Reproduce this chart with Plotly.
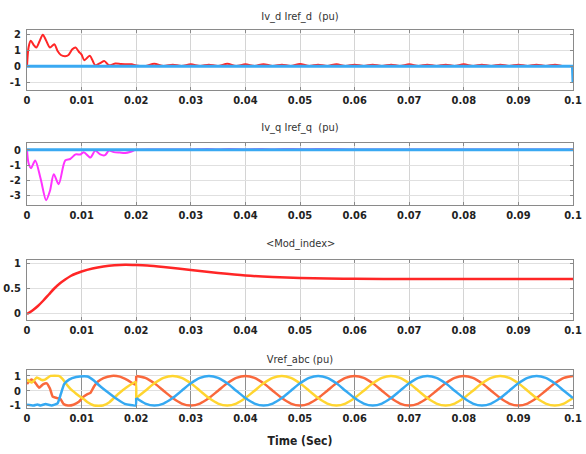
import plotly.graph_objects as go

# ---------------- data (time in ms) ----------------
x_tick_ms = [0, 10, 20, 30, 40, 50, 60, 70, 80, 90, 100]
x_tick_text = ["0", "0.01", "0.02", "0.03", "0.04", "0.05", "0.06", "0.07", "0.08", "0.09", "0.1"]

# Panel 1: Iv_d (red) and Iref_d (blue)
t_ivd_ms = [0, 0.3, 0.7, 1.2, 1.7, 2.3, 2.9, 3.5, 4.2, 5.0, 5.6, 6.2, 7.0, 7.6, 8.3, 8.9, 9.5,
            10.0, 10.5, 11.5, 12.5, 13.4, 14.2, 15.0, 16.2, 17.2, 18.2, 19.2, 20.0,
            21.7, 23.3, 25.0, 26.7, 28.3, 30.0, 31.7, 33.3, 35.0, 36.7, 38.3, 40.0, 41.7, 43.3,
            45.0, 46.7, 48.3, 50.0, 51.7, 53.3, 55.0, 56.7, 58.3, 60.0, 61.7, 63.3, 65.0, 66.7,
            68.3, 70.0, 71.7, 73.3, 75.0, 76.7, 78.3, 80.0, 81.7, 83.3, 85.0, 86.7, 88.3, 90.0,
            91.7, 93.3, 95.0, 96.7, 98.3, 100.0]
ivd = [0, 1.2, 1.58, 1.33, 1.16, 1.55, 1.96, 1.6, 1.16, 1.37, 0.95, 0.7, 0.63, 0.7, 1.05, 1.16, 0.9,
       0.72, 0.38, 0.66, 0.06, 0.2, 0.32, 0.06, 0.17, 0.14, 0.13, 0.12, 0.05,
       0.02, 0.16, 0.02, 0.1, 0.02, 0.12, 0.02, 0.1, 0.02, 0.15, 0.02, 0.12, 0.02, 0.13,
       0.02, 0.1, 0.02, 0.14, 0.02, 0.1, 0.02, 0.13, 0.02, 0.1, 0.02, 0.1, 0.02, 0.1,
       0.02, 0.12, 0.02, 0.1, 0.02, 0.1, 0.02, 0.12, 0.02, 0.1, 0.02, 0.1, 0.02, 0.1,
       0.02, 0.1, 0.02, 0.1, 0.02, 0.02]
t_iref_d_ms = [0, 99.9, 100]
iref_d = [0, 0, -1.0]

# Panel 2: Iv_q (magenta) and Iref_q (blue)
t_ivq_ms = [0, 0.3, 0.75, 1.5, 2.5, 3.5, 4.2, 4.9, 5.8, 7.0, 7.9, 8.9, 9.8, 10.4, 11.6, 12.5,
            13.4, 14.3, 15.0, 15.9, 17.0, 18.0, 19.0, 20.0, 25.0, 30.0, 33.0, 35.0, 37.0,
            40.0, 43.0, 45.0, 47.0, 50.0, 53.0, 56.0, 60.0, 70.0, 80.0, 90.0, 100.0]
ivq = [0, -0.9, -1.2, -0.7, -1.9, -3.3, -2.7, -1.6, -2.25, -0.7, -0.6, -0.3, -0.3, -0.15, -0.5, -0.05,
       -0.3, -0.35, -0.05, -0.15, -0.18, -0.2, -0.12, 0, 0.02, 0.02, 0.05, 0.02, 0.06,
       0.03, 0.06, 0.03, 0.06, 0.04, 0.05, 0.05, 0.02, 0.02, 0.02, 0.02, 0.02]
t_iref_q_ms = [0, 100]
iref_q = [0, 0]

# Panel 3: Mod_index
t_mod_ms = [0, 1, 2, 3, 4, 5, 6, 7, 8, 9, 10, 12, 14, 16, 18, 20, 22, 25, 30, 35, 40, 45, 50,
            55, 60, 70, 80, 90, 100]
mod_index = [-0.02, 0.05, 0.14, 0.25, 0.37, 0.49, 0.59, 0.67, 0.74, 0.79, 0.83, 0.89, 0.93, 0.955,
             0.965, 0.96, 0.95, 0.92, 0.86, 0.8, 0.75, 0.72, 0.70, 0.69, 0.685, 0.68, 0.68, 0.68, 0.68]

# Panel 4: Vref_abc, start-up transient (0-0.02 s)
t_va_tr_ms = [0, 0.8, 1.5, 2.2, 3.0, 3.6, 4.2, 4.7, 5.5, 6.1, 6.7, 7.5, 8.5, 9.5, 10.3, 11.0,
              11.6, 12.3, 13.0, 14.0, 15.5, 17.0, 18.5, 19.9]
va_tr = [0.45, 0.75, 0.55, 0.2, 0.45, 0.5, 0.15, -0.4, -0.5, -0.55, -0.9, -1.0, -0.95, -0.75, -0.42,
         -0.25, -0.15, 0.3, 0.62, 0.85, 1.0, 0.95, 0.7, 0.4]
t_vb_tr_ms = [0, 0.9, 1.8, 2.7, 3.3, 4.3, 5.8, 6.5, 7.2, 8.0, 9.0, 9.9, 10.5, 11.1, 12.3, 13.9,
              15.1, 16.7, 18.2, 19.9]
vb_tr = [0.75, 0.55, 0.9, 0.72, 0.75, 1.0, 1.0, 0.8, 0.45, 0.1, -0.2, -0.45, -0.6, -0.78, -1.0, -1.0,
         -0.78, -0.22, 0.22, 0.6]
t_vc_tr_ms = [0, 1.2, 1.9, 2.5, 3.4, 4.5, 5.6, 6.2, 6.8, 7.7, 9.0, 10.5, 11.1, 12.3, 13.3, 14.8,
              16.4, 17.9, 19.9]
vc_tr = [-0.95, -1.0, -0.93, -1.0, -0.9, -1.0, -0.85, -0.22, 0.44, 0.75, 0.93, 0.98, 0.96, 0.67, 0.33,
         -0.11, -0.55, -0.89, -1.0]

# Panel 4: Vref_abc, steady state (0.02-0.1 s)
t_v_ss_ms = [20, 21.67, 23.33, 25, 26.67, 28.33, 30, 31.67, 33.33, 35, 36.67, 38.33,
             40, 41.67, 43.33, 45, 46.67, 48.33, 50, 51.67, 53.33, 55, 56.67, 58.33,
             60, 61.67, 63.33, 65, 66.67, 68.33, 70, 71.67, 73.33, 75, 76.67, 78.33,
             80, 81.67, 83.33, 85, 86.67, 88.33, 90, 91.67, 93.33, 95, 96.67, 98.33, 100]
va_ss = [1, 0.87, 0.5, 0, -0.5, -0.87, -1, -0.87, -0.5, 0, 0.5, 0.87,
         1, 0.87, 0.5, 0, -0.5, -0.87, -1, -0.87, -0.5, 0, 0.5, 0.87,
         1, 0.87, 0.5, 0, -0.5, -0.87, -1, -0.87, -0.5, 0, 0.5, 0.87,
         1, 0.87, 0.5, 0, -0.5, -0.87, -1, -0.87, -0.5, 0, 0.5, 0.87, 1]
vb_ss = [-0.5, 0, 0.5, 0.87, 1, 0.87, 0.5, 0, -0.5, -0.87, -1, -0.87,
         -0.5, 0, 0.5, 0.87, 1, 0.87, 0.5, 0, -0.5, -0.87, -1, -0.87,
         -0.5, 0, 0.5, 0.87, 1, 0.87, 0.5, 0, -0.5, -0.87, -1, -0.87,
         -0.5, 0, 0.5, 0.87, 1, 0.87, 0.5, 0, -0.5, -0.87, -1, -0.87, -0.5]
vc_ss = [-0.5, -0.87, -1, -0.87, -0.5, 0, 0.5, 0.87, 1, 0.87, 0.5, 0,
         -0.5, -0.87, -1, -0.87, -0.5, 0, 0.5, 0.87, 1, 0.87, 0.5, 0,
         -0.5, -0.87, -1, -0.87, -0.5, 0, 0.5, 0.87, 1, 0.87, 0.5, 0,
         -0.5, -0.87, -1, -0.87, -0.5, 0, 0.5, 0.87, 1, 0.87, 0.5, 0, -0.5]

panel_titles = ["Iv_d Iref_d  (pu)", "Iv_q Iref_q  (pu)", "&lt;Mod_index&gt;", "Vref_abc (pu)"]
x_title = "Time (Sec)"

# ---------------- styling / layout ----------------
W, H = 586, 454
ML, MR = 27, 13
FONT = "Liberation Sans Narrow, DejaVu Sans, sans-serif"
RED = "#FF2626"
BLUE = "#3AA9F2"
MAG = "#FF33FF"
C_A = "#F9683C"
C_B = "#FFD530"
C_C = "#35A9F2"

# pixel (top, bottom) of each plot area
panels_px = [(30, 90), (143, 205), (260, 320), (370, 408)]
y_ranges = [[-1.47, 2.25], [-3.62, 0.45], [-0.14, 1.06], [-1.17, 1.4]]
y_ticks = [[-1, 0, 1, 2], [-3, -2, -1, 0], [0, 0.5, 1], [-1, 0, 1]]
y_ticktext = [["-1", "0", "1", "2"], ["-3", "-2", "-1", "0"], ["0", "0.5", "1"], ["-1", "0", "1"]]
title_py = [17, 128, 244, 359]


def ms(v):
    return [a / 1000.0 for a in v]


fig = go.Figure()


def add(tms, vals, n, color, width, shape="spline", smoothing=0.8):
    ax = "" if n == 1 else str(n)
    fig.add_trace(go.Scatter(x=ms(tms), y=vals, mode="lines", xaxis="x" + ax, yaxis="y" + ax,
                             line=dict(color=color, width=width, shape=shape,
                                       smoothing=smoothing if shape == "spline" else None),
                             showlegend=False, hoverinfo="skip"))


add(t_ivd_ms, ivd, 1, RED, 2)
add(t_iref_d_ms, iref_d, 1, BLUE, 3, shape="linear")
add(t_ivq_ms, ivq, 2, MAG, 2)
add(t_iref_q_ms, iref_q, 2, BLUE, 3, shape="linear")
add(t_mod_ms, mod_index, 3, RED, 2.5)
for ttr, vtr, vss, col in [(t_va_tr_ms, va_tr, va_ss, C_A),
                           (t_vb_tr_ms, vb_tr, vb_ss, C_B),
                           (t_vc_tr_ms, vc_tr, vc_ss, C_C)]:
    add(ttr + [t_v_ss_ms[0]], vtr + [vss[0]], 4, col, 2.5, smoothing=0.4)
    add(t_v_ss_ms, vss, 4, col, 2.5)

tickfont = dict(family=FONT, size=11, weight="bold", color="#222")
layout = dict(width=W, height=H, paper_bgcolor="white", plot_bgcolor="white",
              margin=dict(l=ML, r=MR, t=0, b=0, autoexpand=False),
              font=dict(family=FONT, color="#222"))
annotations = []
for i, (top, bot) in enumerate(panels_px):
    n = i + 1
    ax = "" if n == 1 else str(n)
    layout["xaxis" + ax] = dict(domain=[0, 1], anchor="y" + ax, range=[0, 0.1],
                                tickvals=ms(x_tick_ms), ticktext=x_tick_text,
                                showgrid=True, gridcolor="#8E8E8E" if n == 4 else "#D4D4D4",
                                gridwidth=1, zeroline=False, showline=True, linecolor="#8A8A8A",
                                linewidth=1, mirror="ticks", ticks="inside", ticklen=3,
                                tickcolor="#8A8A8A", tickfont=tickfont)
    layout["yaxis" + ax] = dict(domain=[1 - bot / H, 1 - top / H], anchor="x" + ax,
                                range=y_ranges[i], tickvals=y_ticks[i], ticktext=y_ticktext[i],
                                showgrid=True, gridcolor="#E0E0E0", gridwidth=1, zeroline=False,
                                showline=True, linecolor="#8A8A8A", linewidth=1, mirror="ticks",
                                ticks="inside", ticklen=3, tickcolor="#8A8A8A",
                                ticklabelstandoff=3, tickfont=tickfont)
    annotations.append(dict(text=panel_titles[i], x=0.5, xref="paper", y=1 - title_py[i] / H,
                            yref="paper", showarrow=False, xanchor="center", yanchor="middle",
                            font=dict(family=FONT, size=11, color="#333")))
annotations.append(dict(text=x_title, x=0.5, xref="paper", y=1 - 441 / H, yref="paper",
                        showarrow=False, xanchor="center", yanchor="middle",
                        font=dict(family=FONT, size=12, weight="bold", color="#222")))
layout["annotations"] = annotations
fig.update_layout(**layout)

page_fix = (
    "document.body.style.margin='0px';"
    "document.body.style.overflow='hidden';"
    "var st=document.createElement('style');"
    "st.textContent='.main-svg text{font-stretch:condensed !important;}';"
    "document.head.appendChild(st);"
)
fig.write_html("out.html", post_script=page_fix, config={"displayModeBar": False})
